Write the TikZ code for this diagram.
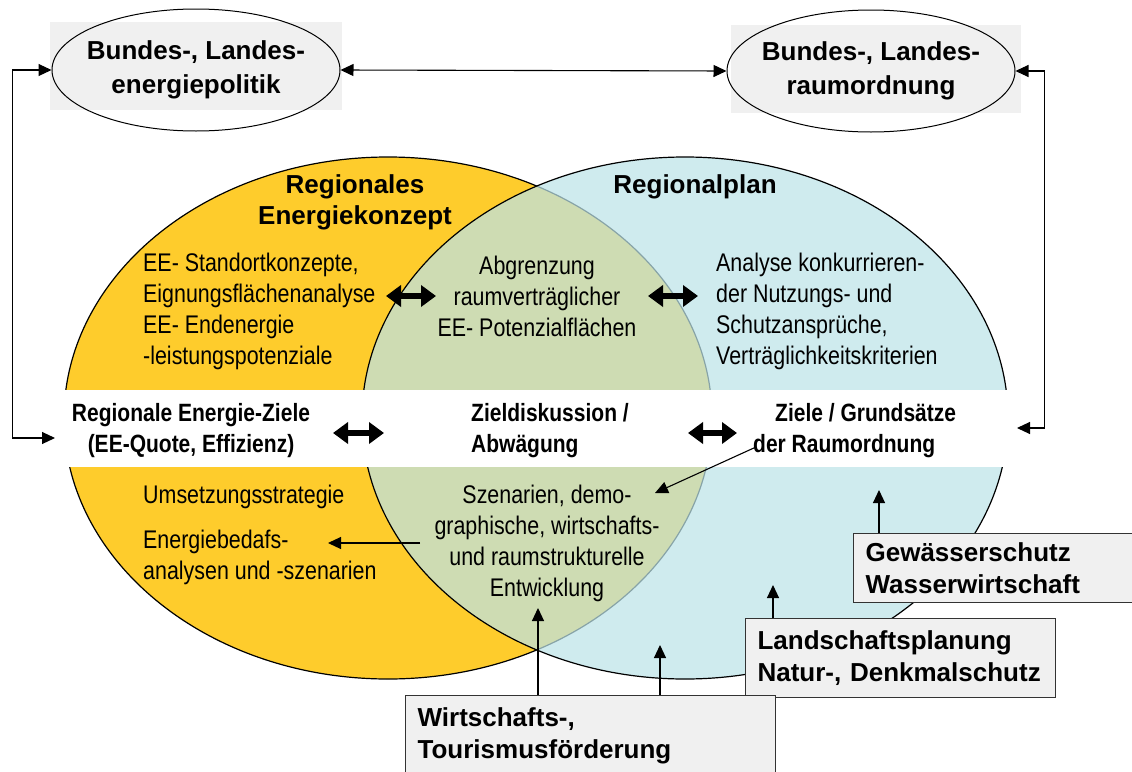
\documentclass[tikz,border=0pt]{standalone}
\usepackage{fontspec}
\setmainfont{Liberation Sans}
\newfontfamily\schmal[FakeStretch=0.84]{Liberation Sans}
\usepackage{tikz}
\usetikzlibrary{arrows.meta,shapes.geometric,positioning}

\definecolor{konzeptgelb}{RGB}{254,204,44}
\definecolor{planblau}{RGB}{188,227,232}
\definecolor{kastengrau}{RGB}{240,240,240}

\begin{document}
\begin{tikzpicture}[x=1pt,y=-1pt,>={Triangle[length=13pt,width=12pt]},
	venn/.style={draw=black,line width=1.2pt},
	politik/.style={ellipse,draw=black,line width=1pt,inner sep=0pt,minimum width=288pt,minimum height=122pt},
	politiktext/.style={align=center,inner sep=0pt,font=\bfseries\fontsize{26}{34}\selectfont},
	titel/.style={align=center,inner sep=0pt,font=\bfseries\fontsize{26}{31}\selectfont},
	inhalt/.style={inner sep=0pt,font=\schmal\fontsize{25.5}{31}\selectfont},
	band/.style={inner sep=0pt,font=\schmal\bfseries\fontsize{25}{31}\selectfont},
	kasten/.style={draw=black!80,line width=1.2pt,fill=kastengrau,anchor=north west,align=left,inner xsep=12pt,font=\bfseries\fontsize{26}{32}\selectfont},
	pfeil/.style={line width=1.1pt},
	doppel/.style={line width=5.5pt,{Triangle[length=15pt,width=21pt]}-{Triangle[length=15pt,width=21pt]}}]
	\useasboundingbox (0,0) rectangle (1132,771);
	% politics on top
	\fill[kastengrau] (50,22) rectangle (342,110);
	\fill[kastengrau] (731,25) rectangle (1021,113);
	\node[politik] (energiepolitik) at (196,70) {};
	\node[politik] (raumordnung) at (871,71) {};
	\node[politiktext] (energiepolitik_text) at (energiepolitik) {Bundes-, Landes-\\energiepolitik};
	\node[politiktext] (raumordnung_text) at (raumordnung) {Bundes-, Landes-\\raumordnung};
	% the two plans
	\draw[venn,fill=konzeptgelb] (388,418) ellipse [x radius=324,y radius=261];
	\draw[venn,fill=planblau,fill opacity=0.72] (685,418) ellipse [x radius=323,y radius=261];
	\fill[white] (40,390) rectangle (1025,467);
	\node[titel] (re_titel) at (355,202) {Regionales\\Energiekonzept};
	\node[titel] (rp_titel) at (695,187) {Regionalplan};
	\node[inhalt,align=left,anchor=west] (ee_links) at (143,311) {EE- Standortkonzepte,\\Eignungsflächenanalyse\\EE- Endenergie\\-leistungspotenziale};
	\node[inhalt,align=center] (abgrenzung) at (537,296) {Abgrenzung\\raumverträglicher\\EE- Potenzialflächen};
	\node[inhalt,align=left,anchor=west] (analyse) at (716,311) {Analyse konkurrieren-\\der Nutzungs- und\\Schutzansprüche,\\Verträglichkeitskriterien};
	\node[band,align=center] (ziele_re) at (191,431) {Regionale Energie-Ziele\\(EE-Quote, Effizienz)};
	\node[band,align=left,anchor=west] (zieldiskussion) at (471,431) {Zieldiskussion /\\Abwägung};
	\node[band,align=left,anchor=west] (ziele_ro) at (753,431) {\hspace*{22pt}Ziele / Grundsätze\\der Raumordnung};
	\node[inhalt,align=center] (szenarien) at (547,543) {Szenarien, demo-\\graphische, wirtschafts-\\und raumstrukturelle\\Entwicklung};
	\node[inhalt,anchor=west] (umsetzung) at (143,497) {Umsetzungsstrategie};
	\node[inhalt,align=left,anchor=west] (bedarf) at (143,557) {Energiebedafs-\\analysen und -szenarien};
	% sectoral planning
	\node[kasten,minimum height=69pt,text width=270pt] (gewaesser) at (853,533) {Gewässerschutz\\Wasserwirtschaft};
	\node[kasten,minimum height=79pt,text width=286pt] (landschaft) at (745,618) {Landschaftsplanung\\Natur-, Denkmalschutz};
	\node[kasten,minimum height=80pt,text width=346pt] (wirtschaft) at (405,695) {Wirtschafts-,\\Tourismusförderung};
	\coordinate (links_ein) at (55,438);
	\coordinate (rechts_ein) at (1017,428);
	\coordinate (dp1a) at (386,296); \coordinate (dp1b) at (436,296);
	\coordinate (dp2a) at (648,296); \coordinate (dp2b) at (698,296);
	\coordinate (dp3a) at (333,433); \coordinate (dp3b) at (384,433);
	\coordinate (dp4a) at (688,433); \coordinate (dp4b) at (737,433);
	\coordinate (sz_aus) at (420,543); \coordinate (bedarf_ein) at (328,543);
	\coordinate (ro_aus) at (756,447); \coordinate (sz_ein) at (655,493);
	\coordinate (g_spitze) at (879,490);
	\coordinate (l_spitze) at (773,585);
	\coordinate (w_spitze1) at (538,608);
	\coordinate (w_spitze2) at (660,645);
	% connectors
	\draw[pfeil,<->] (energiepolitik.east) -- (raumordnung.west);
	\draw[pfeil,<->] (energiepolitik.west) -- ++(-39,0) |- (links_ein);
	\draw[pfeil,<->] (raumordnung.east) -- ++(29,0) |- (rechts_ein);
	\draw[doppel] (dp1a) -- (dp1b);
	\draw[doppel] (dp2a) -- (dp2b);
	\draw[doppel] (dp3a) -- (dp3b);
	\draw[doppel] (dp4a) -- (dp4b);
	\draw[pfeil,->] (sz_aus) -- (bedarf_ein);
	\draw[pfeil,->] (ro_aus) -- (sz_ein);
	\draw[pfeil,->] (g_spitze |- gewaesser.north) -- (g_spitze);
	\draw[pfeil,->] (l_spitze |- landschaft.north) -- (l_spitze);
	\draw[pfeil,->] (w_spitze1 |- wirtschaft.north) -- (w_spitze1);
	\draw[pfeil,->] (w_spitze2 |- wirtschaft.north) -- (w_spitze2);
\end{tikzpicture}
\end{document}
